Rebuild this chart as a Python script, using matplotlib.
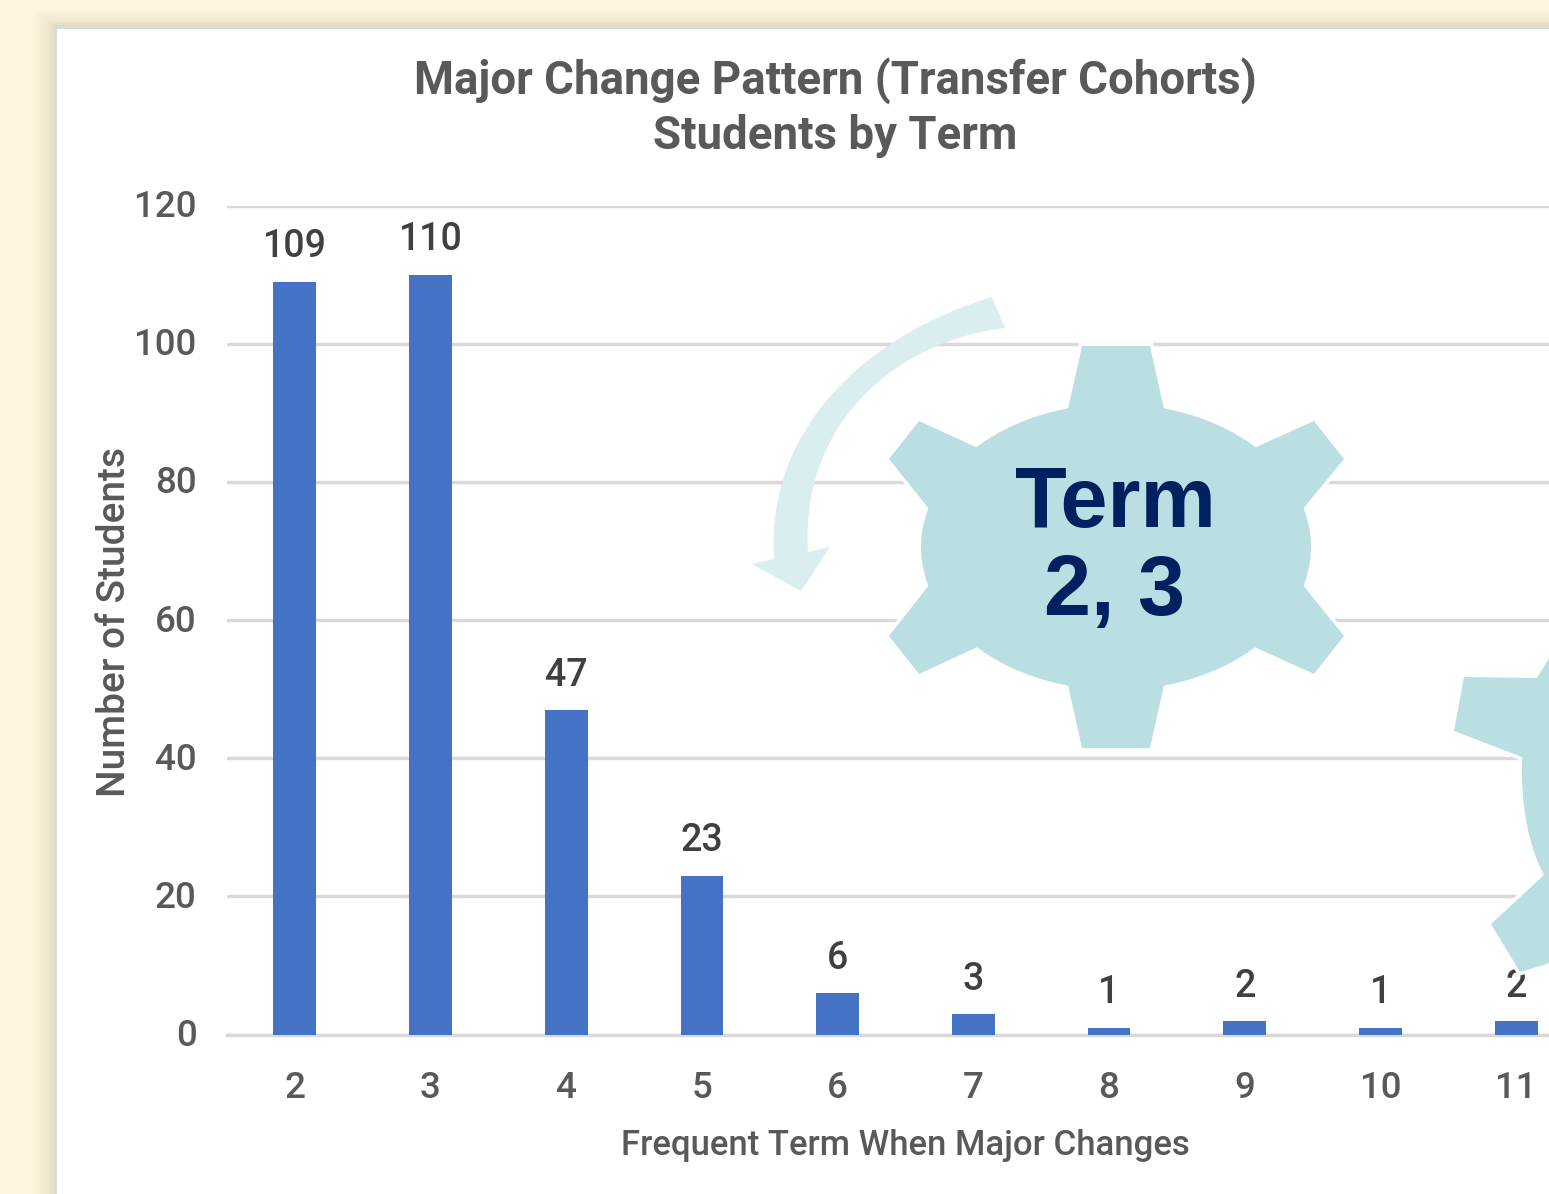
import numpy as np
import matplotlib
matplotlib.use('Agg')
import matplotlib.pyplot as plt
from matplotlib.path import Path
from matplotlib.patches import PathPatch, Polygon, Rectangle
from matplotlib.transforms import ScaledTranslation

terms = ['2', '3', '4', '5', '6', '7', '8', '9', '10', '11']
students = [109, 110, 47, 23, 6, 3, 1, 2, 1, 2]
y_ticks = [0, 20, 40, 60, 80, 100, 120]

W, H = 1549, 1194
GREY = '#595959'
GRID = '#D9D9D9'
TEAL = '#BADFE3'

plt.rcParams['font.family'] = ['Roboto', 'DejaVu Sans']
fig = plt.figure(figsize=(W / 100, H / 100), dpi=100, facecolor='#FEF7E0')

# page background, shadow and white panel, in pixels
bg = fig.add_axes([0, 0, 1, 1], zorder=0)
bg.set_xlim(0, W)
bg.set_ylim(H, 0)
bg.axis('off')
for i in range(20):
    d = 20 - i
    bg.add_patch(Rectangle((55 - d * 1.2, 26 - d * 0.9), W, H,
                           fc='#A89A70', ec='none', alpha=0.004 + i * 0.0007))
bg.add_patch(Rectangle((55.5, 26.5), W, H, fc='white', ec=GRID, lw=2.2))

# chart
ax = fig.add_axes([227 / W, 1 - 1034.6 / H, (W - 227) / W, 829 / H], zorder=1)
ax.patch.set_alpha(0)
x = np.arange(len(terms))
ax.bar(x, students, width=0.315, color='#4472C4', zorder=3)
ax.set_xlim(-0.5, 9.242)
ax.set_ylim(0, 120)
ax.set_yticks(y_ticks)
ax.set_xticks(x)
ax.set_xticklabels(terms)
ax.grid(axis='y', color=GRID, lw=2.5, zorder=0)
ax.set_axisbelow(True)
for s in ['top', 'right', 'left']:
    ax.spines[s].set_visible(False)
ax.spines['bottom'].set_color(GRID)
ax.spines['bottom'].set_linewidth(2.5)
ax.tick_params(axis='both', length=0, labelcolor=GREY, labelsize=26.5)
ax.tick_params(axis='y', pad=22)
ax.tick_params(axis='x', pad=26)
for lab in ax.get_xticklabels() + ax.get_yticklabels():
    lab.set_fontweight('medium')
for lab in ax.get_yticklabels():
    lab.set_transform(lab.get_transform() + ScaledTranslation(0, 2 / 100, fig.dpi_scale_trans))

for xi, v in zip(x, students):
    ax.annotate(str(v), (xi, v), xytext=(0, 25), textcoords='offset points',
                ha='center', va='center', fontsize=27, color='#404040',
                fontweight='medium', zorder=4)

ax.set_xlabel('Frequent Term When Major Changes', fontsize=25, color=GREY,
              fontweight='medium', va='center')
ax.xaxis.set_label_coords((905 - 227) / (W - 227), -110.5 / 829)
ax.set_ylabel('Number of Students', fontsize=28, color=GREY,
              fontweight='medium', va='center')
ax.yaxis.set_label_coords((115 - 227) / (W - 227), (1034 - 621) / 829)

fig.text(835 / W, 1 - 81 / H, 'Major Change Pattern (Transfer Cohorts)',
         ha='center', va='center', fontsize=32.9, color=GREY, fontweight='bold')
fig.text(835 / W, 1 - 136 / H, 'Students by Term',
         ha='center', va='center', fontsize=32.9, color=GREY, fontweight='bold')

# overlay shapes, in pixels
top = fig.add_axes([0, 0, 1, 1], zorder=2)
top.set_xlim(0, W)
top.set_ylim(H, 0)
top.axis('off')


def arc(p0, p1, cx=1116, cy=547, rx=195, ry=143, n=12):
    a0 = np.arctan2((p0[1] - cy) / ry, (p0[0] - cx) / rx)
    a1 = np.arctan2((p1[1] - cy) / ry, (p1[0] - cx) / rx)
    if a1 < a0:
        a1 += 2 * np.pi
    t = np.linspace(a0, a1, n)
    return list(zip(cx + rx * np.cos(t), cy + ry * np.sin(t)))


gear = [(1082, 346), (1150, 346)]
gear += arc((1164, 408), (1256, 447))
gear += [(1314, 421), (1344, 459)]
gear += arc((1304, 508), (1304, 586))
gear += [(1344, 636), (1314, 674)]
gear += arc((1256, 648), (1164, 686))
gear += [(1150, 748), (1082, 748)]
gear += arc((1068, 686), (976, 648))
gear += [(919, 674), (889, 636)]
gear += arc((928, 586), (928, 508))
gear += [(889, 459), (919, 421)]
gear += arc((976, 447), (1068, 408))
top.add_patch(Polygon(gear, closed=True, fc='none', ec='white', lw=5))
top.add_patch(Polygon(gear, closed=True, fc=TEAL, ec='none'))

# second gear, cut by the right edge
verts = [(1464, 677), (1537, 678), (1560, 640), (1560, 960), (1520, 972), (1491, 924),
         (1544, 875), (1520, 830), (1522, 757), (1454, 731), (1464, 677)]
codes = [Path.MOVETO, Path.LINETO, Path.LINETO, Path.LINETO, Path.LINETO, Path.LINETO,
         Path.LINETO, Path.CURVE3, Path.CURVE3, Path.LINETO, Path.CLOSEPOLY]
top.add_patch(PathPatch(Path(verts, codes), fc='none', ec='white', lw=5))
top.add_patch(PathPatch(Path(verts, codes), fc=TEAL, ec='none'))

# curved arrow
verts = [(992, 297), (880, 330), (765, 420), (774, 559), (752, 564), (801, 591), (830, 547),
         (808, 552), (800, 420), (900, 340), (1005, 328), (992, 297)]
codes = [Path.MOVETO, Path.CURVE4, Path.CURVE4, Path.CURVE4, Path.LINETO, Path.LINETO,
         Path.LINETO, Path.LINETO, Path.CURVE4, Path.CURVE4, Path.CURVE4, Path.CLOSEPOLY]
top.add_patch(PathPatch(Path(verts, codes), fc='#DAEDEF', ec='none'))

top.text(1115, 505, 'Term', ha='center', va='center', fontsize=61, color='#002060',
         fontweight='bold', family=['Liberation Sans', 'DejaVu Sans'])
top.text(1115, 593, '2, 3', ha='center', va='center', fontsize=61, color='#002060',
         fontweight='bold', family=['Liberation Sans', 'DejaVu Sans'])

fig.savefig('out.png', dpi=100, facecolor=fig.get_facecolor())
